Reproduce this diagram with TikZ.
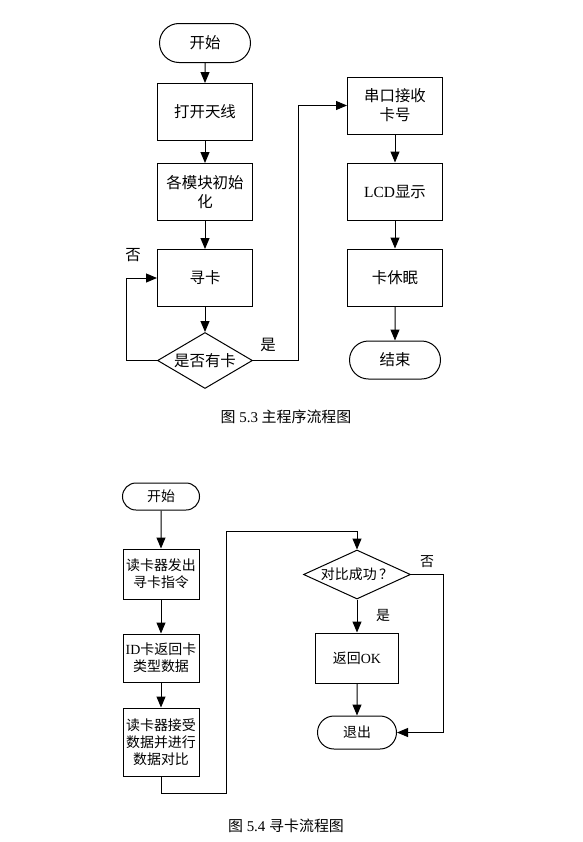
\documentclass[tikz,border=0pt]{standalone}
\usepackage{fontspec}
\setmainfont{Liberation Serif}
\newfontfamily\cjk{Noto Sans CJK SC}
\usetikzlibrary{arrows.meta, positioning, shapes.geometric, shapes.misc}
\tikzset{
  procbox/.style = {draw, line width=1bp, minimum width=95bp, minimum height=57bp,
                    font=\fontsize{15.5}{19}\selectfont\cjk, align=center, inner sep=2bp},
  termbox/.style = {draw, line width=1bp, rounded rectangle, minimum width=95bp, minimum height=39bp,
                    font=\fontsize{15.5}{19}\selectfont\cjk, align=center, inner sep=2bp},
  decbox/.style  = {draw, line width=1bp, diamond, aspect=1.7, minimum width=95bp, minimum height=56bp,
                    font=\fontsize{15.5}{19}\selectfont\cjk, align=center, inner sep=0pt},
  flow/.style    = {-{Triangle[length=11bp, width=9bp]}, line width=1bp},
  lbl/.style     = {font=\fontsize{15.5}{19}\selectfont\cjk, inner sep=0pt},
  captxt/.style  = {font=\fontsize{15}{18}\selectfont, inner sep=0pt},
}

\begin{document}
\begin{tikzpicture}[x=1bp, y=-1bp]
  \useasboundingbox (0,0) rectangle (583,842);

  % Fig 5.3: main program
  \node[termbox]                   (start1) at (205,43)    {开始};
  \node[procbox, below=20bp of start1] (antenna)           {打开天线};
  \node[procbox, below=22bp of antenna] (init)             {各模块初始\\化};
  \node[procbox, below=28bp of init]   (seek)              {寻卡};
  \node[decbox,  below=25bp of seek]   (hascard)           {是否有卡};

  \node[procbox]                   (serial) at (395,105.5) {串口接收\\卡号};
  \node[procbox, below=28bp of serial] (lcd)               {{\rmfamily LCD}显示};
  \node[procbox, below=28bp of lcd]    (sleep)             {卡休眠};
  \node[termbox, below=34bp of sleep, minimum height=38bp] (end1) {结束};

  \draw[flow] (start1)--(antenna);
  \draw[flow] (antenna)--(init);
  \draw[flow] (init)--(seek);
  \draw[flow] (seek)--(hascard);
  \draw[flow] (hascard.west) -- ++(-31,0) |- (seek.west);
  \draw[flow] (hascard.east) -- ++(45,0) |- (serial.west);
  \draw[flow] (serial)--(lcd);
  \draw[flow] (lcd)--(sleep);
  \draw[flow] (sleep)--(end1);

  \node[lbl] (no1)  at (133,255) {否};
  \node[lbl] (yes1) at (268,345) {是};

  \node[captxt] (cap1) at (286,417) {{\cjk 图} 5.3 {\cjk 主程序流程图}};

  % Fig 5.4: card search
  \begin{scope}[procbox/.append style={minimum width=76bp, minimum height=50bp, font=\fontsize{14}{17}\selectfont\cjk},
                termbox/.append style={minimum width=81bp, minimum height=27bp, font=\fontsize{14}{17}\selectfont\cjk},
                decbox/.append style={aspect=2.18, minimum width=107bp, minimum height=49bp, font=\fontsize{14}{17}\selectfont\cjk},
                lbl/.append style={font=\fontsize{14}{17}\selectfont\cjk}]
    \node[termbox]                    (start2) at (161,496.5) {开始};
    \node[procbox, below=38bp of start2] (cmd)              {读卡器发出\\寻卡指令};
    \node[procbox, below=34bp of cmd, minimum height=48bp] (idret) {{\rmfamily ID}卡返回卡\\类型数据};
    \node[procbox, below=25bp of idret, minimum height=68bp] (compare) {读卡器接受\\数据并进行\\数据对比};

    \node[decbox]                     (judge) at (357,574.5) {对比成功\,？};
    \node[procbox, below=33bp of judge, minimum width=83bp] (retok) {返回{\rmfamily OK}};
    \node[termbox, below=32bp of retok, minimum width=83bp, minimum height=33bp] (exit2) {退出};

    \draw[flow] (start2)--(cmd);
    \draw[flow] (cmd)--(idret);
    \draw[flow] (idret)--(compare);
    \draw[flow] (compare.south) -- ++(0,17) -| ++(65,-262) -| (judge.north);
    \draw[flow] (judge)--(retok);
    \draw[flow] (retok)--(exit2);
    \draw[flow] (judge.east) -- ++(32,0) |- (exit2.east);

    \node[lbl] (no2)  at (427,562) {否};
    \node[lbl] (yes2) at (383,615) {是};
  \end{scope}

  \node[captxt] (cap2) at (286,826) {{\cjk 图} 5.4 {\cjk 寻卡流程图}};
\end{tikzpicture}
\end{document}
